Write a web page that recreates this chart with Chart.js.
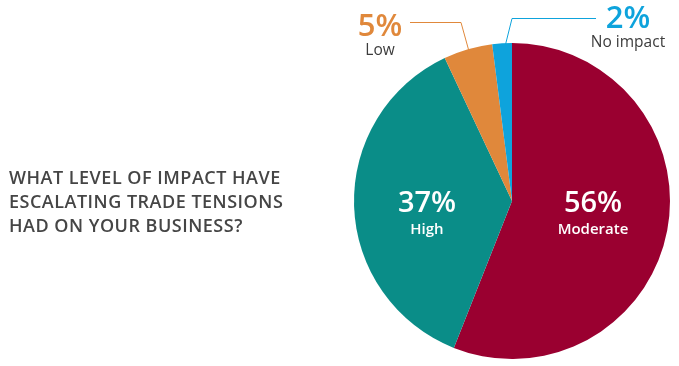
<!DOCTYPE html>
<html>
<head>
<meta charset="utf-8">
<script src="https://cdn.jsdelivr.net/npm/chart.js@4"></script>
<style>
  html, body { margin: 0; padding: 0; background: #fff; }
  #wrap { position: relative; width: 679px; height: 366px; }
  #title {
    position: absolute; left: 9px; top: 165px;
    font-family: "Open Sans", sans-serif; font-weight: 600;
    font-size: 18px; line-height: 24px; color: #454545;
    letter-spacing: 0.5px;
  }
</style>
</head>
<body>
<div id="wrap">
  <div id="title">WHAT LEVEL OF IMPACT HAVE<br>ESCALATING TRADE TENSIONS<br>HAD ON YOUR BUSINESS?</div>
  <canvas id="pie" width="679" height="366"></canvas>
</div>
<script>
// data
const categories = ['Moderate', 'High', 'Low', 'No impact'];
const shares = [56, 37, 5, 2];
const colors = ['#9a0030', '#0a8d88', '#e0883b', '#0ea3dc'];

// text labels drawn on top of the slices
const labelPlugin = {
  id: 'sliceLabels',
  afterDatasetsDraw(chart) {
    const ctx = chart.ctx;
    const arcs = chart.getDatasetMeta(0).data;
    const cx = arcs[0].x, cy = arcs[0].y;
    ctx.save();
    ctx.textAlign = 'center';
    ctx.textBaseline = 'alphabetic';

    // inside labels
    const inside = [
      { i: 0, dx: 81, dy: 0 },
      { i: 1, dx: -85, dy: 0 },
    ];
    inside.forEach(l => {
      ctx.fillStyle = '#ffffff';
      ctx.font = '600 29px "Open Sans", sans-serif';
      ctx.fillText(shares[l.i] + '%', cx + l.dx, cy + 11);
      ctx.font = '600 15px "Open Sans", sans-serif';
      ctx.fillText(categories[l.i], cx + l.dx, cy + 33);
    });

    // outside labels with leader lines
    const outside = [
      { i: 2, tx: 380, ty: 36, line: [[410, 22], [461, 22], [476, 76]] },
      { i: 3, tx: 628, ty: 28, line: [[596, 18], [512, 18], [505, 46]] },
    ];
    outside.forEach(l => {
      ctx.strokeStyle = colors[l.i];
      ctx.lineWidth = 1;
      ctx.beginPath();
      l.line.forEach((p, k) => {
        if (k === 0) ctx.moveTo(p[0], p[1] + 0.5);
        else ctx.lineTo(p[0], p[1] + 0.5);
      });
      ctx.stroke();
      ctx.fillStyle = colors[l.i];
      ctx.font = '600 31px "Open Sans", sans-serif';
      ctx.fillText(shares[l.i] + '%', l.tx, l.ty);
      ctx.fillStyle = '#3c3c3c';
      ctx.font = '15.5px "Open Sans", sans-serif';
      ctx.fillText(categories[l.i], l.tx, l.ty + 19);
    });
    ctx.restore();
  }
};

new Chart(document.getElementById('pie'), {
  type: 'pie',
  data: {
    labels: categories,
    datasets: [{
      data: shares,
      backgroundColor: colors,
      borderWidth: 0,
    }],
  },
  options: {
    responsive: false,
    animation: false,
    layout: { padding: { left: 354, right: 9, top: 43, bottom: 7 } },
    plugins: {
      legend: { display: false },
      tooltip: { enabled: false },
    },
  },
  plugins: [labelPlugin],
});
</script>
</body>
</html>
